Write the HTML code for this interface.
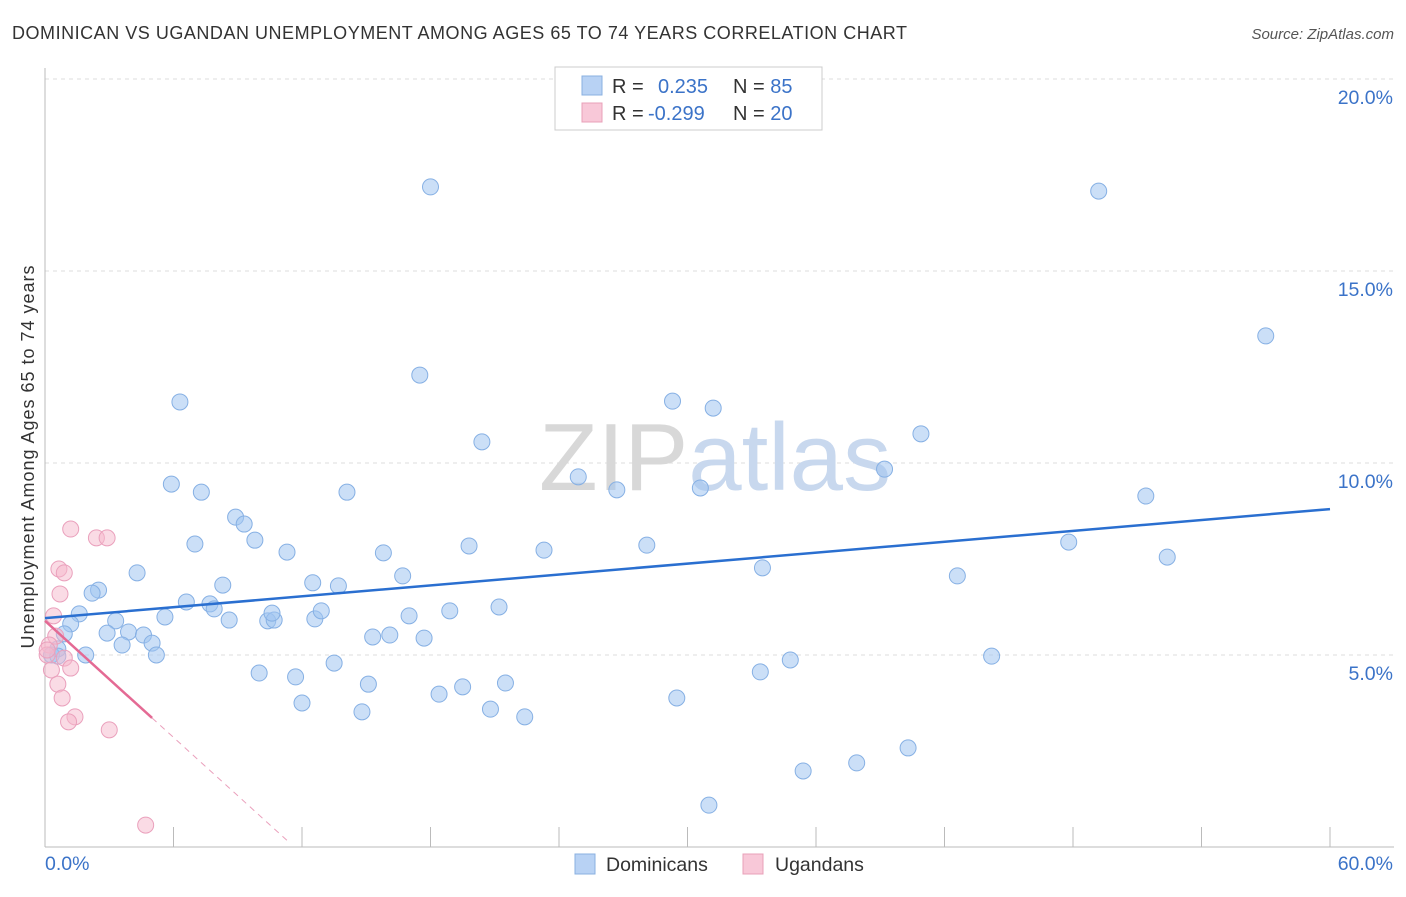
<!DOCTYPE html>
<html><head><meta charset="utf-8"><style>
body{margin:0;background:#fff;font-family:"Liberation Sans",sans-serif;}
svg text{font-family:"Liberation Sans",sans-serif;}
</style></head><body>
<svg id="chart" width="1406" height="892" xmlns="http://www.w3.org/2000/svg">
<text x="12" y="39" font-size="18" fill="#333" textLength="895" lengthAdjust="spacing">DOMINICAN VS UGANDAN UNEMPLOYMENT AMONG AGES 65 TO 74 YEARS CORRELATION CHART</text>
<text x="1394" y="39" font-size="15" fill="#555" text-anchor="end" font-style="italic">Source: ZipAtlas.com</text>
<g id="grid"></g>
<text x="715" y="490" font-size="96" fill="#ddd" text-anchor="middle" font-family="Liberation Serif"><tspan fill="#d8d8d8">ZIP</tspan><tspan fill="#c8d8ee" font-family="Liberation Sans">atlas</tspan></text>
<text transform="translate(34,457) rotate(-90)" font-size="18" fill="#333" text-anchor="middle" textLength="383">Unemployment Among Ages 65 to 74 years</text>
<g id="marks"></g>
<g>
<rect x="555" y="67" width="267" height="63" fill="#fff" stroke="#ccc"/>
<rect x="582" y="76" width="20" height="19" fill="#b8d2f4" stroke="#8ab0e0"/>
<rect x="582" y="103" width="20" height="19" fill="#f8c8d8" stroke="#e8a0b8"/>
<text x="612" y="93" font-size="20" fill="#333">R = <tspan fill="#3b73c8" x="658">0.235</tspan><tspan x="733" fill="#333">N = </tspan><tspan fill="#3b73c8">85</tspan></text>
<text x="612" y="120" font-size="20" fill="#333">R = <tspan fill="#3b73c8" x="648">-0.299</tspan><tspan x="733" fill="#333">N = </tspan><tspan fill="#3b73c8">20</tspan></text>
</g>
<g>
<rect x="575" y="854" width="20" height="20" fill="#b8d2f4" stroke="#8ab0e0"/>
<text x="606" y="871" font-size="19.5" fill="#333">Dominicans</text>
<rect x="743" y="854" width="20" height="20" fill="#f8c8d8" stroke="#e8a0b8"/>
<text x="775" y="871" font-size="19.5" fill="#333">Ugandans</text>
</g>
</svg>
<script>
const yTicks=[5,10,15,20];
const yTickLabels=["5.0%","10.0%","15.0%","20.0%"];
const xTickCount=[0,6,12,18,24,30,36,42,48,54,60];
const domX=[2.5,2.2,1.6,1.2,0.9,0.6,0.3,0.6,1.9,3.3,2.9,3.9,4.6,5.0,3.6,5.2,4.3,5.6,6.3,5.9,7.3,7.0,6.6,7.7,7.9,8.3,8.6,8.9,9.3,9.8,10.0,10.4,10.7,10.6,11.3,11.7,12.0,12.5,12.6,12.9,13.5,13.7,14.1,14.8,15.1,15.3,15.8,16.1,16.7,17.0,17.5,17.7,18.0,18.4,18.9,19.5,19.8,20.4,20.8,21.2,21.5,22.4,23.3,24.9,26.7,28.1,29.3,29.5,30.6,31.0,31.2,33.4,33.5,34.8,35.4,37.9,39.2,40.3,40.9,42.6,44.2,47.8,49.2,51.4,52.4,57.0];
const domY=[6.69,6.61,6.07,5.81,5.55,5.16,5.0,4.97,5.0,5.89,5.57,5.60,5.52,5.31,5.26,5.0,7.14,5.99,11.59,9.45,9.24,7.89,6.38,6.33,6.20,6.82,5.91,8.59,8.41,7.99,4.53,5.89,5.91,6.09,7.68,4.43,3.75,6.88,5.94,6.15,4.79,6.80,9.24,3.52,4.24,5.47,7.66,5.52,7.06,6.02,12.29,5.44,17.19,3.98,6.15,4.17,7.84,10.55,3.59,6.25,4.27,3.39,7.73,9.64,9.30,7.86,11.61,3.88,9.35,1.09,11.43,4.56,7.27,4.87,1.98,2.19,9.84,2.58,10.76,7.06,4.97,7.94,17.08,9.14,7.55,13.31];
const ugX=[1.2,2.4,2.9,0.65,0.9,0.7,0.4,0.5,0.2,0.1,0.9,1.2,0.3,0.6,0.8,1.4,1.1,3.0,4.7,0.1];
const ugY=[8.28,8.05,8.05,7.24,7.14,6.59,6.02,5.49,5.26,5.0,4.92,4.66,4.61,4.24,3.88,3.39,3.26,3.05,0.57,5.13];
const blueTrend=[5.96,8.80];
const pinkTrend=[5.89,-0.506];
const NS="http://www.w3.org/2000/svg";
const sx=v=>45+v*(1285/60), sy=v=>847-v*38.4;
function mk(t,a,p){const e=document.createElementNS(NS,t);for(const k in a)e.setAttribute(k,a[k]);(p||document.getElementById('marks')).appendChild(e);return e;}
const g=document.getElementById('grid');
yTicks.forEach((t,i)=>{
 const l=mk('line',{x1:45,x2:1394,y1:sy(t),y2:sy(t),stroke:'#ddd','stroke-dasharray':'4,4'},g);
 
 
 const tx=mk('text',{x:1393,y:sy(t)+25,'font-size':19.5,fill:'#3b73c8','text-anchor':'end'},g);
 tx.textContent=yTickLabels[i];
 
 
});
mk('line',{x1:45,x2:45,y1:68,y2:847,stroke:'#bbb'},g);
mk('line',{x1:45,x2:1394,y1:847,y2:847,stroke:'#bbb'},g);
xTickCount.forEach(t=>{const l=mk('line',{x1:sx(t),x2:sx(t),y1:827,y2:847,stroke:'#bbb'},g);
 
 });
let t0=mk('text',{x:45,y:870,'font-size':19.5,fill:'#3b73c8'},g);t0.textContent='0.0%';


let t1=mk('text',{x:1393,y:870,'font-size':19.5,fill:'#3b73c8','text-anchor':'end'},g);t1.textContent='60.0%';


domX.forEach((x,i)=>{const c=mk('circle',{cx:sx(x),cy:sy(domY[i]),r:8,fill:'rgba(160,196,240,0.55)',stroke:'#86b0e4','stroke-width':1});
 
 });
ugX.forEach((x,i)=>{const c=mk('circle',{cx:sx(x),cy:sy(ugY[i]),r:8,fill:'rgba(246,184,204,0.5)',stroke:'#eaa0bc','stroke-width':1});
 
 });
const bl=mk('line',{x1:sx(0),y1:sy(blueTrend[0]),x2:sx(60),y2:sy(blueTrend[1]),stroke:'#2a6fd0','stroke-width':2.5});


const pf=x=>pinkTrend[0]+pinkTrend[1]*x;
const pl=mk('line',{x1:sx(0),y1:sy(pf(0)),x2:sx(5),y2:sy(pf(5)),stroke:'#e46a94','stroke-width':2.5});


const pd=mk('line',{x1:sx(5),y1:sy(pf(5)),x2:sx(11.4),y2:sy(pf(11.4)),stroke:'#eaa0bc','stroke-width':1,'stroke-dasharray':'6,5'});


</script>
</body></html>
